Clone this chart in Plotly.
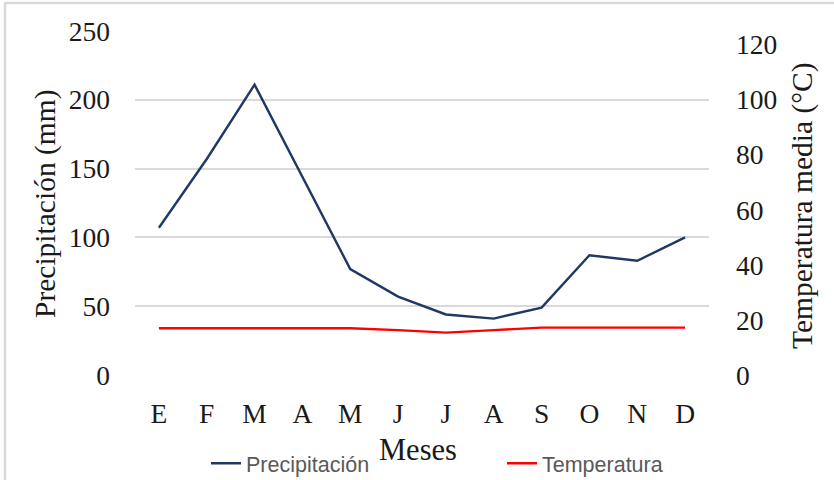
import plotly.graph_objects as go

# Climate diagram: monthly precipitation (left axis) and mean temperature (right axis)
meses = ["E", "F", "M", "A", "M", "J", "J", "A", "S", "O", "N", "D"]
precipitacion = [107, 157, 211, 144, 77, 57, 44, 41, 49, 87, 83, 100]
temperatura = [17.0, 17.0, 17.0, 17.0, 17.0, 16.3, 15.4, 16.3, 17.2, 17.2, 17.2, 17.2]

x_idx = list(range(len(meses)))

SERIF = "Liberation Serif, Times New Roman, serif"
SANS = "Liberation Sans, Arial, sans-serif"
TEXT = "#1a1a1a"

# plot area geometry in pixels
L, R, T, B = 135, 125, 31, 105
PW, PH = 834 - L - R, 480 - T - B


def px_x(px):
    return (px - L) / PW


def px_y(py):
    return (480 - B - py) / PH


fig = go.Figure()
fig.add_trace(go.Scatter(
    x=x_idx, y=precipitacion, name="Precipitación", mode="lines",
    line=dict(color="#1F3864", width=2.4), yaxis="y",
    legend="legend", showlegend=True,
))
fig.add_trace(go.Scatter(
    x=x_idx, y=temperatura, name="Temperatura", mode="lines",
    line=dict(color="#FF0000", width=2.4), yaxis="y2",
    legend="legend2", showlegend=True,
))

legend_style = dict(
    orientation="h", xref="container", yref="container",
    y=0.035, xanchor="left", yanchor="middle",
    font=dict(family=SANS, size=21.5, color="#595959"),
    bgcolor="rgba(0,0,0,0)",
)

title_font = dict(family=SERIF, size=29.5, color=TEXT)

fig.update_layout(
    width=834, height=480,
    margin=dict(l=L, r=R, t=T, b=B),
    paper_bgcolor="white", plot_bgcolor="white",
    font=dict(family=SERIF, size=27.5, color=TEXT),
    showlegend=True,
    xaxis=dict(
        tickmode="array", tickvals=x_idx, ticktext=meses,
        range=[-0.5, 11.5], showgrid=False, zeroline=False,
        showline=False, ticks="", ticklabelstandoff=19, automargin=False,
    ),
    yaxis=dict(
        range=[0, 250], dtick=50, showgrid=True, gridcolor="#D9D9D9",
        gridwidth=2, zeroline=False, showline=False, ticks="",
        ticklabelstandoff=24, automargin=False,
    ),
    yaxis2=dict(
        overlaying="y", side="right", range=[0, 125],
        tickvals=[0, 20, 40, 60, 80, 100, 120],
        showgrid=False, zeroline=False, showline=False, ticks="",
        ticklabelstandoff=26, automargin=False,
    ),
    legend=dict(legend_style, x=206 / 834),
    legend2=dict(legend_style, x=502 / 834),
    annotations=[
        dict(text="Precipitación (mm)", xref="paper", yref="paper",
             x=px_x(45), y=px_y(204), textangle=-90, showarrow=False,
             xanchor="center", yanchor="middle", font=title_font),
        dict(text="Temperatura media (°C)", xref="paper", yref="paper",
             x=px_x(802), y=px_y(205), textangle=-90, showarrow=False,
             xanchor="center", yanchor="middle", font=title_font),
        dict(text="Meses", xref="paper", yref="paper",
             x=px_x(418), y=px_y(450), showarrow=False,
             xanchor="center", yanchor="middle",
             font=dict(title_font, size=30.5)),
    ],
    shapes=[
        # thin frame around the chart area
        dict(type="rect", xref="paper", yref="paper",
             x0=px_x(5), x1=2, y0=-2, y1=px_y(3),
             line=dict(color="#D9D9D9", width=2.5), layer="below"),
    ],
)

fig.write_html("out.html")
